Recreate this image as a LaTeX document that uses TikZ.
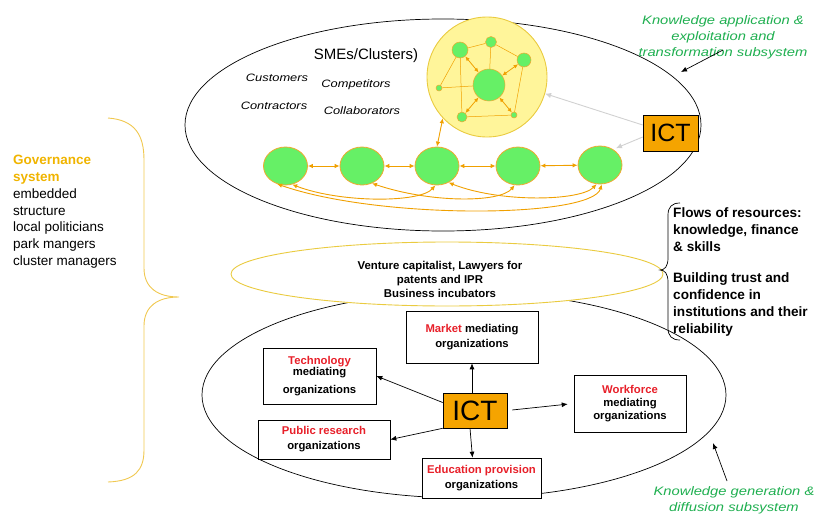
\documentclass[tikz,border=0pt]{standalone}
\usepackage{fontspec}
\setmainfont{Liberation Sans}
\newfontfamily\widefont[FakeStretch=1.2]{Liberation Sans}
\usetikzlibrary{arrows.meta,shapes.geometric}
\definecolor{gfill}{HTML}{66F066}
\definecolor{obord}{HTML}{F0A830}
\definecolor{oarrow}{HTML}{F0A000}
\definecolor{yfill}{HTML}{FFF59A}
\definecolor{ybord}{HTML}{EACB40}
\definecolor{ictfill}{HTML}{F5A400}
\definecolor{kgreen}{HTML}{1FAF50}
\definecolor{rred}{HTML}{E8202A}
\definecolor{govor}{HTML}{F0B400}
\definecolor{bracec}{HTML}{F0C850}
\begin{document}
\begin{tikzpicture}[x=1pt,y=-1pt,
  gcirc/.style={ellipse, draw=obord, fill=gfill, line width=0.8pt, minimum width=44pt, minimum height=38pt, inner sep=0},
  sg/.style={circle, draw=obord, fill=gfill, line width=0.5pt, inner sep=0},
  oarr/.style={draw=oarrow, line width=0.9pt, {Latex[length=5pt,width=4.5pt]}-{Latex[length=5pt,width=4.5pt]}},
  oarrs/.style={draw=oarrow, line width=0.8pt, {Latex[length=4.5pt,width=4pt]}-{Latex[length=4.5pt,width=4pt]}},
  oline/.style={draw=oarrow, line width=0.5pt},
  ictbox/.style={draw=black, fill=ictfill, inner sep=0, line width=0.6pt},
  orgbox/.style={draw=black, line width=0.6pt, fill=white, inner sep=0, align=center, font=\bfseries\fontsize{11.3}{15}\selectfont},
  barr/.style={draw=black, line width=0.7pt, -{Latex[length=6pt,width=5pt]}},
  garr/.style={draw=black!18, line width=0.9pt, -{Latex[length=6pt,width=5.5pt]}},
  kg/.style={text=kgreen, align=center, font=\widefont\itshape\fontsize{12.3}{16}\selectfont, inner sep=0},
  small/.style={font=\widefont\itshape\fontsize{10.7}{12}\selectfont, inner sep=0}
]
\useasboundingbox (0,0) rectangle (822,514);
% ellipses
\draw[line width=0.7pt] (443,125) ellipse [x radius=258, y radius=106];
\draw[line width=0.7pt] (464,395) ellipse [x radius=262, y radius=103];
\draw[draw=ybord, fill=white, line width=0.9pt] (447,274) ellipse [x radius=216, y radius=32];
\node[font=\bfseries\fontsize{11.4}{14}\selectfont, align=center] (vc) at (440,279) {Venture capitalist, Lawyers for\\patents and IPR\\Business incubators};

% yellow cluster circle
\node[circle, draw=ybord, fill=yfill, line width=0.9pt, minimum size=120pt, inner sep=0] (yc) at (487,77) {};
\node[sg, minimum size=32pt] (a) at (489,85) {};
\node[sg, minimum size=16pt] (b) at (460,50) {};
\node[sg, minimum size=11pt] (c) at (491,42) {};
\node[sg, minimum size=14pt] (d) at (524,60) {};
\node[sg, minimum size=6pt] (e) at (439,88) {};
\node[sg, minimum size=10pt] (f) at (462,117) {};
\node[sg, minimum size=6pt] (g) at (514,115) {};
\draw[oline] (b)--(c) (c)--(d) (c)--(a) (b)--(e) (b)--(f) (e)--(a) (d)--(g) (f)--(g);
\draw[oarrs] (b)--(a);
\draw[oarrs] (d)--(a);
\draw[oarrs] (f)--(a);
\draw[oarrs] (g)--(a);

% texts top
\node[font=\fontsize{15}{15}\selectfont] (sme) at (366,56) {SMEs/Clusters)};
\node[small] (cus) at (277,78) {Customers};
\node[small] (com) at (356,85) {Competitors};
\node[small] (con) at (274,106) {Contractors};
\node[small] (col) at (362,111) {Collaborators};

% five green circles
\node[gcirc] (n1) at (285.5,166) {};
\node[gcirc] (n2) at (362,166) {};
\node[gcirc] (n3) at (437,166) {};
\node[gcirc] (n4) at (518,166) {};
\node[gcirc] (n5) at (600,165) {};
\draw[oarr] (n1)--(n2);
\draw[oarr] (n2)--(n3);
\draw[oarr] (n3)--(n4);
\draw[oarr] (n4)--(n5);
\draw[oarr] (yc.-137)--(n3.north);
\draw[oarr] (n1.-70) .. controls (340,203) and (420,203) .. (n3.-95);
\draw[oarr] (n2.-60) .. controls (430,203) and (500,203) .. (n4.-100);
\draw[oarr] (n3.-55) .. controls (500,203) and (580,201) .. (n5.-100);
\draw[oarr] (n1.-115) .. controls (380,220) and (592,218) .. (n5.-85);

% top ICT
\node[ictbox, minimum width=55pt, minimum height=36pt, font=\fontsize{25}{25}\selectfont] (ict1) at (670.5,133) {ICT};
\draw[garr] ([yshift=8pt]ict1.west) -- (yc.-16);
\draw[garr, shorten >=3pt] ([yshift=-4pt]ict1.west) -- (n5.50);

% knowledge application label
\node[kg] (kapp) at (723,37) {Knowledge application \&\\exploitation and\\transformation subsystem};
\coordinate (kat) at (723,50);
\coordinate (kah) at (681,72);
\draw[barr] (kat) -- (kah);

% governance
\draw[draw=bracec, line width=0.9pt] (108,118) .. controls (135,120) and (144,135) .. (144,160) -- (144,268) .. controls (144,288) and (158,297) .. (179,297) .. controls (158,297) and (144,306) .. (144,326) -- (144,450) .. controls (144,470) and (135,481) .. (108,482);
\node[anchor=north west, align=left, inner sep=0, font=\fontsize{13.5}{16.8}\selectfont] (gov) at (13,155) {\textcolor{govor}{\bfseries Governance}\\\textcolor{govor}{\bfseries system}\\embedded\\structure\\local politicians\\park mangers\\cluster managers};

% right brace and flows text
\draw[line width=0.7pt] (680,203) .. controls (672,203) and (668,207) .. (668,215) -- (668,258) .. controls (668,266) and (665,270) .. (660,270) .. controls (665,270) and (668,274) .. (668,282) -- (668,328) .. controls (668,336) and (672,340) .. (680,340);
\node[anchor=north west, align=left, inner sep=0, font=\bfseries\fontsize{13.6}{17}\selectfont] (flows) at (673,207) {Flows of resources:\\knowledge, finance\\\& skills\\[14pt]Building trust and\\confidence in\\institutions and their\\reliability};

% bottom organizations
\node[orgbox, minimum width=132pt, minimum height=52pt] (mkt) at (472,337) {\textcolor{rred}{Market} mediating\\organizations};
\node[orgbox, minimum width=113pt, minimum height=56pt] (tech) at (319.5,376) {\textcolor{rred}{Technology}\\[-4pt]mediating\\[3pt]organizations};
\node[orgbox, minimum width=132pt, minimum height=39pt] (pub) at (324,439.5) {\textcolor{rred}{Public research}\\organizations};
\node[orgbox, minimum width=119pt, minimum height=40pt] (edu) at (481.5,478) {\textcolor{rred}{Education provision}\\organizations};
\node[orgbox, minimum width=112pt, minimum height=57pt, font=\bfseries\fontsize{11.3}{13}\selectfont] (wf) at (630,403.5) {\textcolor{rred}{Workforce}\\mediating\\organizations};
\node[ictbox, minimum width=64pt, minimum height=35pt, font=\fontsize{28}{28}\selectfont] (ict2) at (475,410.5) {ICT};
\draw[barr] (ict2.north -| mkt.south) -- (mkt.south);
\draw[barr] ([yshift=8pt]ict2.west) -- (tech.east);
\draw[barr] (ict2.south west) -- (pub.east);
\draw[barr] ([xshift=-5pt]ict2.south) -- ([xshift=-9pt]edu.north);
\draw[barr, shorten <=5pt, shorten >=6pt] (ict2.east) -- (wf.west);

% knowledge generation label
\node[kg] (kgen) at (734,500) {Knowledge generation \&\\diffusion subsystem};
\coordinate (kgt) at (727,481);
\coordinate (kgh) at (713,443);
\draw[barr] (kgt) -- (kgh);
\end{tikzpicture}
\end{document}
